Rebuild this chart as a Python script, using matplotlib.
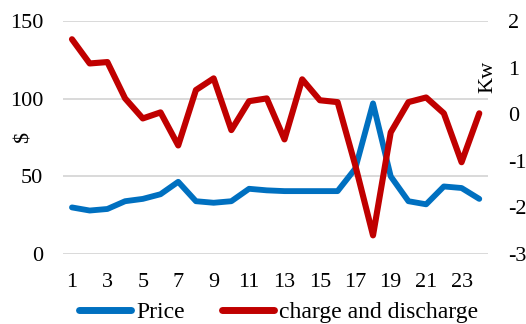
import matplotlib
matplotlib.use("Agg")
import matplotlib.pyplot as plt

hours = list(range(1, 25))
price = [30, 28, 29, 34, 35.5, 38.5, 46.5, 34, 33, 34, 42, 41, 40.5, 40.5, 40.5, 40.5,
         55, 97, 50, 34, 32, 43.5, 42.5, 35.5]
charge = [1.61, 1.09, 1.12, 0.34, -0.09, 0.04, -0.67, 0.52, 0.77, -0.34, 0.28, 0.34,
          -0.54, 0.75, 0.30, 0.26, -1.1, -2.6, -0.39, 0.26, 0.36, 0.02, -1.03, 0.02]
xticks = list(range(1, 24, 2))
left_ticks = [0, 50, 100, 150]
right_ticks = [-3, -2, -1, 0, 1, 2]

plt.rcParams['font.family'] = ['Liberation Serif', 'DejaVu Serif']
plt.rcParams['axes.unicode_minus'] = False
fs = 16

fig = plt.figure(figsize=(5.26, 3.24), dpi=100)
ax = fig.add_axes([0.120, 0.216, 0.808, 0.719])
ax2 = ax.twinx()

blue = '#0070C0'
red = '#C00000'

l1, = ax.plot(hours, price, color=blue, lw=4.2, solid_joinstyle='round', solid_capstyle='round',
              label='Price', zorder=3)
l2, = ax2.plot(hours, charge, color=red, lw=4.4, solid_joinstyle='round', solid_capstyle='round',
               label='charge and discharge', zorder=4)

ax.set_xlim(0.5, 24.5)
ax.set_ylim(0, 150)
ax2.set_ylim(-3, 2)
ax.set_yticks(left_ticks)
ax2.set_yticks(right_ticks)
ax.set_xticks(xticks)
ax.grid(axis='y', color='#D9D9D9', lw=1.4)
ax.set_axisbelow(True)

for a in (ax, ax2):
    for s in a.spines.values():
        s.set_visible(False)
    a.tick_params(length=0, labelsize=fs)
ax.tick_params(axis='y', pad=14.4)
ax2.tick_params(axis='y', pad=14.4)
ax.tick_params(axis='x', pad=14)

ax.set_ylabel('$', fontsize=fs)
ax.yaxis.set_label_coords(-0.07, 0.5)
ax2.set_ylabel('Kw', fontsize=fs)
ax2.yaxis.set_label_coords(0.976, 0.76)

leg = fig.legend([l1, l2], ['Price', 'charge and discharge'], loc='center', bbox_to_anchor=(0.53, 0.035),
                 ncol=2, frameon=False, fontsize=17, handlelength=2.2, handletextpad=0.2,
                 columnspacing=1.6)
for h in leg.get_lines():
    h.set_linewidth(5)
    h.set_solid_capstyle('round')

fig.savefig('out.png', dpi=100)
